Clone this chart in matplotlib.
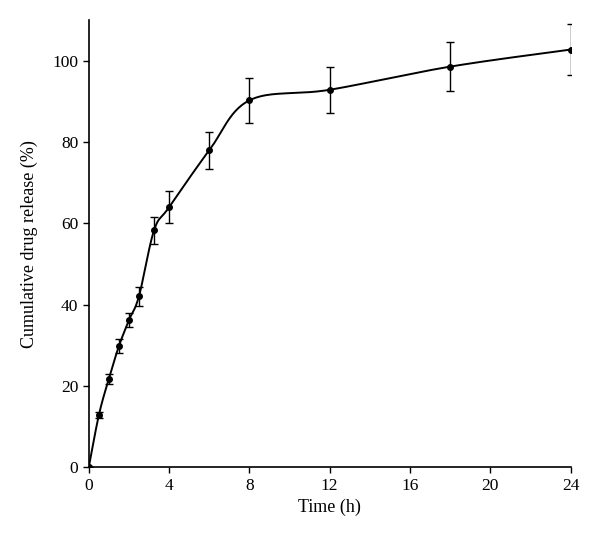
import numpy as np
import matplotlib
matplotlib.use("Agg")
import matplotlib.pyplot as plt

# release data
time_h = [0, 0.5, 1, 1.5, 2, 2.5, 3.25, 4, 6, 8, 12, 18, 24]
release = [0, 12.8, 21.8, 29.8, 36.2, 42.1, 58.3, 64.0, 78.0, 90.3, 92.9, 98.6, 102.8]
err = [0, 0.8, 1.2, 1.8, 1.8, 2.3, 3.3, 4.0, 4.6, 5.5, 5.6, 6.0, 6.3]

XMAX = 24
YMAX = 110


def smooth_line(x, y, aspect, n=40):
    # spreadsheet style smoothed line: bezier segments, catmull-rom handles,
    # worked out in axes units so the shape doesn't depend on the data scale
    px = np.asarray(x, float) / XMAX * aspect
    py = np.asarray(y, float) / YMAX
    P = np.column_stack([px, py])
    P = np.vstack([P[0], P, P[-1]])
    t = np.linspace(0, 1, n)[:, None]
    out = []
    for i in range(1, len(P) - 2):
        p0, p3 = P[i], P[i + 1]
        p1 = p0 + (P[i + 1] - P[i - 1]) / 6
        p2 = p3 - (P[i + 2] - P[i]) / 6
        seg = ((1 - t) ** 3 * p0 + 3 * (1 - t) ** 2 * t * p1
               + 3 * (1 - t) * t ** 2 * p2 + t ** 3 * p3)
        out.append(seg)
    out = np.vstack(out)
    return out[:, 0] / aspect * XMAX, out[:, 1] * YMAX


plt.rcParams['font.family'] = ['Liberation Serif', 'DejaVu Serif']

fig = plt.figure(figsize=(6, 5.49), dpi=100)
ax = fig.add_axes([0.148, 0.149, 0.803, 0.814])

xs, ys = smooth_line(time_h, release, aspect=482 / 447)
ax.plot(xs, ys, color="black", lw=1.4)
ax.errorbar(time_h, release, yerr=err, fmt="o", color="black", ms=4,
            elinewidth=1, capsize=3, capthick=1)

ax.set_xlim(0, XMAX)
ax.set_ylim(0, YMAX)
ax.set_xticks(range(0, 25, 4))
ax.set_yticks(range(0, 101, 20))
ax.spines["top"].set_visible(False)
ax.spines["right"].set_visible(False)
ax.spines["left"].set_linewidth(1.2)
ax.spines["bottom"].set_linewidth(1.2)
ax.tick_params(direction="out", length=4, width=1, labelsize=12.5)
ax.set_xlabel("Time (h)", fontsize=13)
ax.set_ylabel("Cumulative drug release (%)", fontsize=13, labelpad=10)

fig.savefig("out.png", dpi=100)
